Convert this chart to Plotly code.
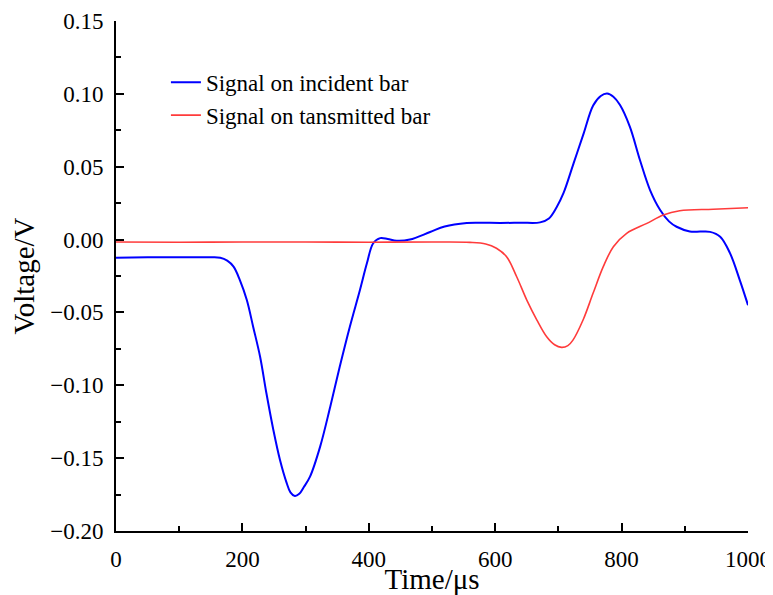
import plotly.graph_objects as go

# Time (µs) and voltage (V)
incident_t = [0, 50, 100, 150, 165, 176, 186, 196, 207, 217, 228, 238, 249, 259.5, 270, 276, 283,
              290, 297, 307, 323, 339, 354, 370, 386, 397, 407, 418, 430, 444, 465, 497, 520, 555,
              576, 608, 640, 671, 685, 697, 708, 724, 740, 755, 767, 777, 787, 797.5, 813, 829, 845,
              861, 875, 887, 908, 925, 940, 956, 971.5, 987, 1000]
incident_v = [-0.0125, -0.0122, -0.0121, -0.0122, -0.0125, -0.0145, -0.0186, -0.0278, -0.0415,
              -0.0598, -0.0804, -0.1055, -0.1307, -0.1513, -0.1670, -0.1735, -0.1760,
              -0.1745, -0.1700, -0.1627, -0.1421, -0.1147, -0.0873, -0.0598, -0.0346, -0.0163,
              -0.0025, 0.0010, 0.0004, -0.0008, 0.0000, 0.0052, 0.0090, 0.0114,
              0.0116, 0.0114, 0.0116, 0.0118, 0.0145, 0.0220, 0.0318, 0.0523, 0.0729, 0.0920,
              0.0985, 0.1002, 0.0980, 0.0923, 0.0775, 0.0546, 0.0340,
              0.0203, 0.0125, 0.0088, 0.0056, 0.0055, 0.0053, 0.0020, -0.0093, -0.0278, -0.0450]

transmitted_t = [0, 100, 200, 300, 400, 500, 560, 585, 602, 618, 634, 650, 666, 681.5, 694, 705,
                 715, 723, 739, 755, 771, 787, 808, 840, 866, 892, 945, 1000]
transmitted_v = [-0.0017, -0.0018, -0.0017, -0.0017, -0.0018, -0.0017, -0.0019, -0.0030, -0.0060,
                 -0.0118, -0.0255, -0.0415, -0.0552, -0.0667, -0.0722, -0.0740,
                 -0.0728, -0.0690, -0.0552, -0.0367, -0.0186, -0.0049, 0.0043, 0.0111, 0.0169,
                 0.0198, 0.0208, 0.0218]

x_ticks = [0, 200, 400, 600, 800, 1000]
y_ticks = [0.15, 0.10, 0.05, 0.00, -0.05, -0.10, -0.15, -0.20]
y_tick_text = ["0.15", "0.10", "0.05", "0.00", "\u22120.05", "\u22120.10", "\u22120.15", "\u22120.20"]

FONT = "Liberation Serif"

fig = go.Figure()
fig.add_trace(go.Scatter(x=incident_t, y=incident_v, mode="lines",
                         name="Signal on incident bar",
                         line=dict(color="#0000FF", width=2, shape="spline", smoothing=1.0)))
fig.add_trace(go.Scatter(x=transmitted_t, y=transmitted_v, mode="lines",
                         name="Signal on tansmitted bar",
                         line=dict(color="#FF3B3B", width=1.6, shape="spline", smoothing=1.0)))

# the page body adds an 8px offset, so the figure is 765x587
fig.update_layout(
    width=765, height=587,
    margin=dict(l=108, r=25, t=13, b=64),
    plot_bgcolor="white", paper_bgcolor="white",
    font=dict(family=FONT, color="black", size=23),
    showlegend=True,
    legend=dict(x=0.079, y=0.922, xanchor="left", yanchor="top",
                font=dict(family=FONT, size=23, color="black"),
                bgcolor="rgba(0,0,0,0)", tracegroupgap=0),
    xaxis=dict(range=[0, 1000], tickvals=x_ticks, ticks="inside", ticklen=8, tickwidth=2,
               tickcolor="black", showline=True, linecolor="black", linewidth=2,
               showgrid=False, zeroline=False, ticklabelstandoff=6, automargin=False,
               minor=dict(dtick=100, ticks="inside", ticklen=5, tickwidth=2, tickcolor="black"),
               title=dict(text="Time/\u03bcs", font=dict(family=FONT, size=29), standoff=2),
               tickfont=dict(family=FONT, size=23)),
    yaxis=dict(range=[-0.20, 0.15], tickvals=y_ticks, ticktext=y_tick_text, ticks="inside",
               ticklen=8, tickwidth=2, tickcolor="black", showline=True, linecolor="black",
               linewidth=2, showgrid=False, zeroline=False, ticklabelstandoff=6, automargin=False,
               minor=dict(dtick=0.025, tick0=0, ticks="inside", ticklen=5, tickwidth=2,
                          tickcolor="black"),
               title=dict(text="Voltage/V", font=dict(family=FONT, size=29), standoff=8),
               tickfont=dict(family=FONT, size=23)),
)

fig.write_html("out.html")
